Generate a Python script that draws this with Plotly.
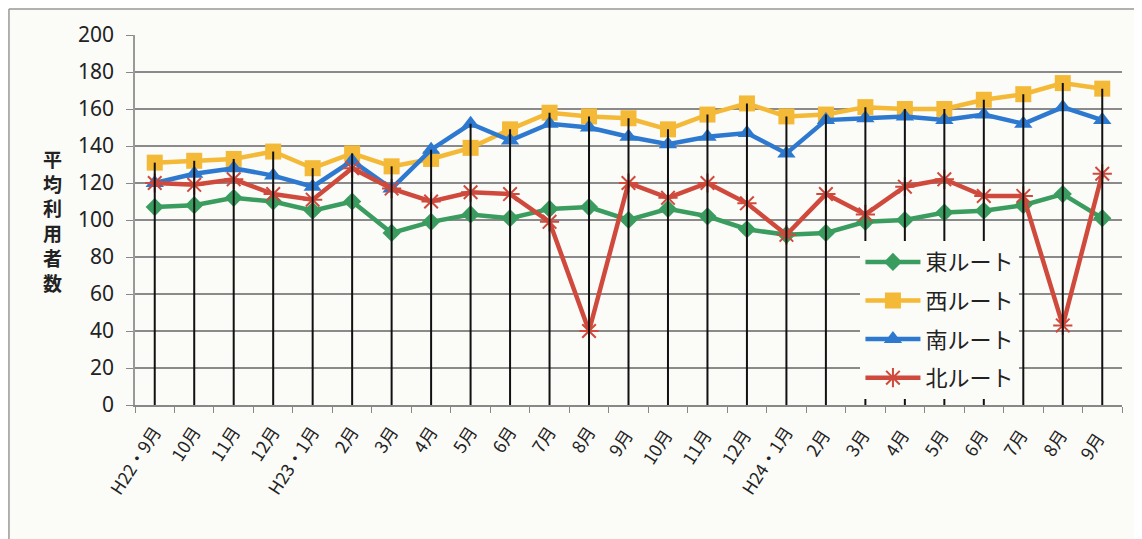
import plotly.graph_objects as go

categories = ["H22・9月", "10月", "11月", "12月", "H23・1月", "2月", "3月", "4月", "5月", "6月",
              "7月", "8月", "9月 ", "10月 ", "11月 ", "12月 ", "H24・1月", "2月 ", "3月 ", "4月 ",
              "5月 ", "6月 ", "7月 ", "8月 ", "9月  "]

east = [107, 108, 112, 110, 105, 110, 93, 99, 103, 101, 106, 107, 100, 106, 102, 95, 92, 93, 99, 100, 104, 105, 108, 114, 101]
west = [131, 132, 133, 137, 128, 136, 129, 133, 139, 149, 158, 156, 155, 149, 157, 163, 156, 157, 161, 160, 160, 165, 168, 174, 171]
south = [120, 125, 128, 124, 118, 132, 117, 138, 152, 143, 152, 150, 145, 141, 145, 147, 136, 154, 155, 156, 154, 157, 152, 161, 154]
north = [120, 119, 122, 114, 111, 128, 117, 110, 115, 114, 99, 40, 120, 112, 120, 109, 92, 114, 103, 118, 122, 113, 113, 43, 125]

series_names = ["東ルート", "西ルート", "南ルート", "北ルート"]
y_ticks = [0, 20, 40, 60, 80, 100, 120, 140, 160, 180, 200]

bg = "#fbfbf8"
fig = go.Figure()

styles = [
    (east, "#3a9c5e", dict(symbol="diamond", size=14, color="#3a9c5e")),
    (west, "#f4b936", dict(symbol="square", size=16, color="#f4b936")),
    (south, "#2e79d0", dict(symbol="triangle-up", size=16, color="#2e79d0")),
    (north, "#cf4a3c", dict(symbol="asterisk-open", size=16, color="#cf4a3c", line=dict(color="#cf4a3c", width=2))),
]
for i, (vals, col, mk) in enumerate(styles):
    fig.add_trace(go.Scatter(
        x=categories, y=vals, name=series_names[i], mode="lines+markers",
        line=dict(color=col, width=4.5), marker=mk, legendgroup=str(i),
    ))

# drop lines from highest point to axis
dx, dy = [], []
for j, c in enumerate(categories):
    top = max(east[j], west[j], south[j], north[j])
    dx += [c, c, None]
    dy += [0, top, None]
fig.add_trace(go.Scatter(x=dx, y=dy, mode="lines", line=dict(color="#111111", width=2),
                         showlegend=False, hoverinfo="skip"))

fig.update_layout(
    width=1142, height=539,
    paper_bgcolor=bg, plot_bgcolor=bg,
    margin=dict(l=127, r=28, t=27, b=142, autoexpand=False),
    font=dict(family="Noto Sans, Noto Sans CJK JP", color="#222222"),
    showlegend=True,
    legend=dict(x=0.735, y=0.443, xanchor="left", yanchor="top", bgcolor=bg,
                font=dict(size=22, family="Noto Sans CJK JP", color="#222222"),
                tracegroupgap=7, itemwidth=55),
    shapes=[
        dict(type="line", xref="paper", yref="paper", x0=-0.1277, x1=-0.1277, y0=-0.5, y1=1.07,
             line=dict(color="#999999", width=1.5)),
        dict(type="line", xref="paper", yref="paper", x0=-0.1277, x1=1.1, y0=1.07, y1=1.07,
             line=dict(color="#999999", width=1.5)),
    ],
)
fig.update_xaxes(
    type="category", tickangle=-57, tickson="boundaries", ticks="outside", ticklen=6,
    tickcolor="#888888", showline=True, linecolor="#888888", linewidth=1.5,
    showgrid=False, tickfont=dict(size=17.5, family="Noto Sans CJK JP", color="#222222"),
    range=[-0.5, len(categories) - 0.5], automargin=False, ticklabelstandoff=8,
)
fig.update_yaxes(
    range=[0, 200], tickvals=y_ticks, ticks="outside", ticklen=7, tickcolor="#888888",
    showline=True, linecolor="#999999", linewidth=1.5,
    showgrid=True, gridcolor="#8a8a8a", gridwidth=1.5, zeroline=False,
    tickfont=dict(size=21, family="Noto Sans", color="#222222"), automargin=False,
    ticklabelstandoff=8,
)
fig.add_annotation(text="平<br>均<br>利<br>用<br>者<br>数", xref="paper", yref="paper",
                   x=-0.085, xanchor="center", y=0.5, showarrow=False, align="center",
                   xshift=1,
                   font=dict(size=19, family="Noto Sans CJK JP", color="#222222", weight="bold"))

fig.write_html("out.html")
